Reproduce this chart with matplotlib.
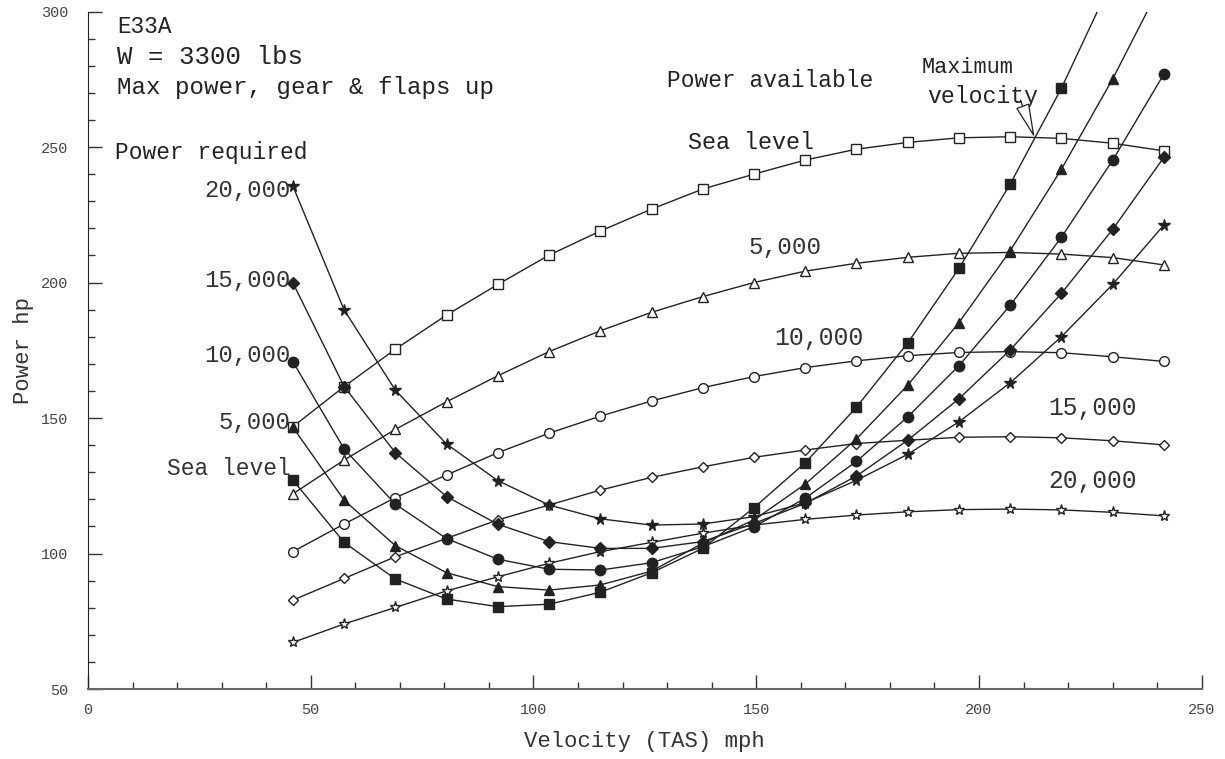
import matplotlib
matplotlib.use("Agg")
import matplotlib.pyplot as plt
import numpy as np

plt.rcParams['font.family'] = ['Liberation Mono', 'DejaVu Sans Mono']

# Velocity (TAS) mph
velocity = [46, 57.5, 69, 80.5, 92, 103.5, 115, 126.5, 138, 149.5, 161,
            172.5, 184, 195.5, 207, 218.5, 230, 241.5]

# Power available (hp)
pa_sea = [146.8, 161.6, 175.4, 188.0, 199.3, 210.1, 219.0, 227.1, 234.5, 240.0,
          245.2, 249.2, 251.7, 253.4, 253.8, 253.2, 251.4, 248.6]
pa_5k = [122.0, 134.5, 145.8, 156.0, 165.6, 174.5, 182.2, 189.0, 194.8, 200.0,
         204.2, 207.1, 209.3, 210.8, 211.1, 210.5, 209.2, 206.5]
pa_10k = [100.7, 110.9, 120.6, 129.0, 137.2, 144.4, 150.7, 156.3, 161.2, 165.3,
          168.6, 171.1, 173.0, 174.2, 174.5, 174.1, 172.6, 170.9]
pa_15k = [82.8, 90.8, 98.8, 105.6, 112.4, 117.9, 123.4, 128.1, 132.0, 135.5,
          138.2, 140.6, 141.8, 142.9, 143.1, 142.7, 141.6, 140.1]
pa_20k = [67.2, 74.0, 80.1, 86.2, 91.4, 96.4, 100.7, 104.1, 107.5, 110.5,
          112.6, 114.2, 115.4, 116.2, 116.4, 116.1, 115.2, 113.9]

# Power required (hp)
pr_sea = [127.1, 104.1, 90.6, 83.2, 80.4, 81.3, 85.7, 92.9, 101.9, 116.9,
          133.5, 154.0, 177.7, 205.2, 236.3, 271.7, 312.0, np.nan]
pr_5k = [146.6, 119.7, 102.9, 92.9, 87.8, 86.5, 88.4, 93.5, 103.8, 112.4,
         125.6, 142.3, 162.1, 185.2, 211.7, 241.8, 275.1, 312.0]
pr_10k = [170.8, 138.6, 118.2, 105.5, 97.9, 94.2, 93.9, 96.6, 102.5, 109.9,
          120.4, 134.0, 150.4, 169.3, 191.6, 216.7, 245.1, 276.9]
pr_15k = [199.9, 161.6, 137.2, 121.0, 110.8, 104.4, 101.9, 101.9, 104.4, 111.1,
          118.5, 128.6, 141.8, 157.1, 175.1, 196.0, 219.6, 246.2]
pr_20k = [235.6, 189.9, 160.3, 140.4, 126.9, 117.9, 112.8, 110.5, 110.9, 113.6,
          118.7, 127.0, 136.6, 148.6, 163.0, 180.0, 199.3, 221.2]

pa_series = [(pa_sea, 's', 6.5), (pa_5k, '^', 6.5), (pa_10k, 'o', 7),
             (pa_15k, 'D', 5), (pa_20k, '*', 8)]
pr_series = [(pr_sea, 's', 7.5), (pr_5k, '^', 7.5), (pr_10k, 'o', 7.5),
             (pr_15k, 'D', 6), (pr_20k, '*', 8.5)]

fig = plt.figure(figsize=(12.25, 7.59), dpi=100)
ax = fig.add_axes([0.0718, 0.0922, 0.9092, 0.8926])

line_c = '#222222'
for vals, m, ms in pa_series:
    ax.plot(velocity, vals, color=line_c, lw=1.0, marker=m, ms=ms,
            mfc='white', mec=line_c, mew=1.0, clip_on=True)
for vals, m, ms in pr_series:
    ax.plot(velocity, vals, color=line_c, lw=1.0, marker=m, ms=ms,
            mfc=line_c, mec=line_c, mew=1.0, clip_on=True)

ax.set_xlim(0, 250)
ax.set_ylim(50, 300)
ax.set_xticks(np.arange(0, 251, 50))
ax.set_xticks(np.arange(0, 251, 10), minor=True)
ax.set_yticks(np.arange(50, 301, 50))
ax.set_yticks(np.arange(50, 301, 10), minor=True)
ax.tick_params(axis='both', which='major', direction='in', length=10, width=1.0,
               labelsize=11, labelcolor='#444444', color='#333333')
ax.tick_params(axis='both', which='minor', direction='in', length=5, width=1.0,
               color='#333333')
ax.tick_params(axis='x', which='major', pad=10)
ax.tick_params(axis='y', which='major', pad=14)
for s in ['top', 'right']:
    ax.spines[s].set_visible(False)
ax.spines['left'].set_color('#222222')
ax.spines['bottom'].set_color('#666666')
ax.spines['bottom'].set_linewidth(1.5)

ax.set_xlabel('Velocity (TAS) mph', fontsize=16, color='#333333', labelpad=10)
ax.set_ylabel('Power hp', fontsize=16, color='#333333', labelpad=5)

fs = 18.5
tc = '#222222'
ax.text(6.5, 294.3, 'E33A', fontsize=fs * 0.88, color=tc, va='center', ha='left')
ax.text(6.5, 283.2, 'W = 3300 lbs', fontsize=fs, color=tc, va='center', ha='left')
ax.text(6.5, 271.8, 'Max power, gear & flaps up', fontsize=fs * 0.94, color=tc,
        va='center', ha='left')
ax.text(6.1, 247.8, 'Power required', fontsize=fs * 0.89, color=tc, va='center', ha='left')

lab_c = '#333333'
ax.text(45.5, 234.1, '20,000', fontsize=fs * 0.93, color=lab_c, va='center', ha='right')
ax.text(45.5, 200.6, '15,000', fontsize=fs * 0.93, color=lab_c, va='center', ha='right')
ax.text(45.5, 173.2, '10,000', fontsize=fs * 0.93, color=lab_c, va='center', ha='right')
ax.text(45.5, 148.2, '5,000', fontsize=fs * 0.93, color=lab_c, va='center', ha='right')
ax.text(45.5, 131.2, 'Sea level', fontsize=fs * 0.89, color=lab_c, va='center', ha='right')

ax.text(130, 274.7, 'Power available', fontsize=fs * 0.89, color=tc, va='center', ha='left')
ax.text(134.7, 251.5, 'Sea level', fontsize=fs * 0.91, color=tc, va='center', ha='left')
ax.text(148.2, 213.1, '5,000', fontsize=fs * 0.95, color=lab_c, va='center', ha='left')
ax.text(154.0, 179.5, '10,000', fontsize=fs * 0.97, color=lab_c, va='center', ha='left')
ax.text(215.5, 153.7, '15,000', fontsize=fs * 0.96, color=lab_c, va='center', ha='left')
ax.text(215.5, 126.8, '20,000', fontsize=fs * 0.96, color=lab_c, va='center', ha='left')

ax.text(187.2, 279.5, 'Maximum', fontsize=fs * 0.85, color=tc, va='center', ha='left')
ax.text(188.3, 268.8, 'velocity', fontsize=fs * 0.9, color=tc, va='center', ha='left')
ax.annotate('', xy=(212.5, 253.4), xytext=(209.3, 267.3),
            arrowprops=dict(arrowstyle='-|>,head_length=2.2,head_width=0.45',
                            fc='white', ec=line_c, lw=0.9, shrinkA=0, shrinkB=0))

fig.savefig('out.png', dpi=100)
